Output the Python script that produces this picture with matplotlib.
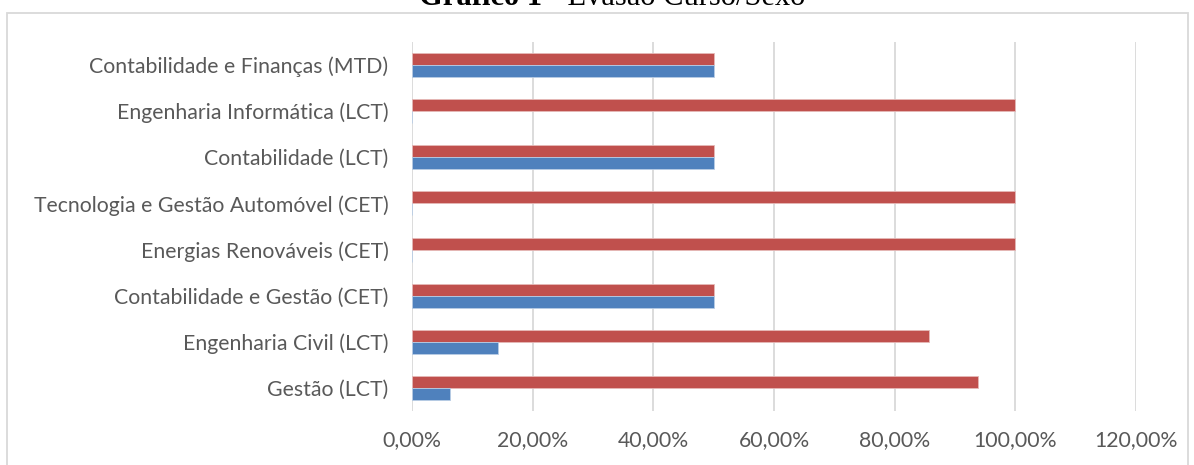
import matplotlib
matplotlib.use("Agg")
import matplotlib.pyplot as plt
from matplotlib.patches import Rectangle
from matplotlib.ticker import FuncFormatter
import numpy as np

categories = [
    "Gestão (LCT)",
    "Engenharia Civil (LCT)",
    "Contabilidade e Gestão (CET)",
    "Energias Renováveis (CET)",
    "Tecnologia e Gestão Automóvel (CET)",
    "Contabilidade (LCT)",
    "Engenharia Informática (LCT)",
    "Contabilidade e Finanças (MTD)",
]
blue_values = [6.25, 14.29, 50.0, 0.0, 0.0, 50.0, 0.0, 50.0]
red_values = [93.75, 85.71, 50.0, 100.0, 100.0, 50.0, 100.0, 50.0]
xticks = [0, 20, 40, 60, 80, 100, 120]

W, H = 1194, 465
fig = plt.figure(figsize=(W / 100, H / 100), dpi=100)
ax = fig.add_axes([412 / W, 1 - 411 / H, (1136 - 412) / W, (411 - 42) / H])

y = np.arange(len(categories))
bh = 0.26
ax.barh(y + bh / 2, red_values, height=bh, color="#C0504D", edgecolor="#E6B9B8", linewidth=0.6, zorder=3)
ax.barh(y - bh / 2, blue_values, height=bh, color="#4F81BD", edgecolor="#B9CDE5", linewidth=0.6, zorder=3)

ax.set_xlim(0, 120)
ax.set_ylim(-0.5, len(categories) - 0.5)
ax.set_xticks(xticks)
ax.xaxis.set_major_formatter(FuncFormatter(lambda v, p: f"{v:.2f}%".replace(".", ",")))
ax.set_yticks(y)
ax.set_yticklabels(categories)
for s in ax.spines.values():
    s.set_visible(False)
ax.grid(axis="x", color="#D9D9D9", linewidth=1.3, zorder=0)
ax.tick_params(axis="both", length=0, labelsize=15.3, labelcolor="#595959")
ax.tick_params(axis="y", pad=17)
ax.tick_params(axis="x", pad=14)
for lab in ax.get_xticklabels() + ax.get_yticklabels():
    lab.set_fontfamily("Lato")

fig.patches.append(Rectangle((7 / W, -0.05), (1188 - 7) / W, 1 - 13 / H + 0.05,
                             transform=fig.transFigure, fill=False,
                             edgecolor="#D9D9D9", linewidth=1.3))

# Title (cut off at the top edge, as in the reference)
t1 = fig.text(0, 1 - 5 / H, "Gráfico 1", fontfamily="Liberation Serif", fontweight="bold",
              fontsize=22, ha="left", va="baseline")
t2 = fig.text(0, 1 - 5 / H, " - Evasão Curso/Sexo", fontfamily="Liberation Serif",
              fontsize=22, ha="left", va="baseline")
r = fig.canvas.get_renderer()
w1 = t1.get_window_extent(r).width
w2 = t2.get_window_extent(r).width
x0 = 612 - (w1 + w2) / 2
t1.set_x(x0 / W)
t2.set_x((x0 + w1) / W)

fig.savefig("out.png", dpi=100)
